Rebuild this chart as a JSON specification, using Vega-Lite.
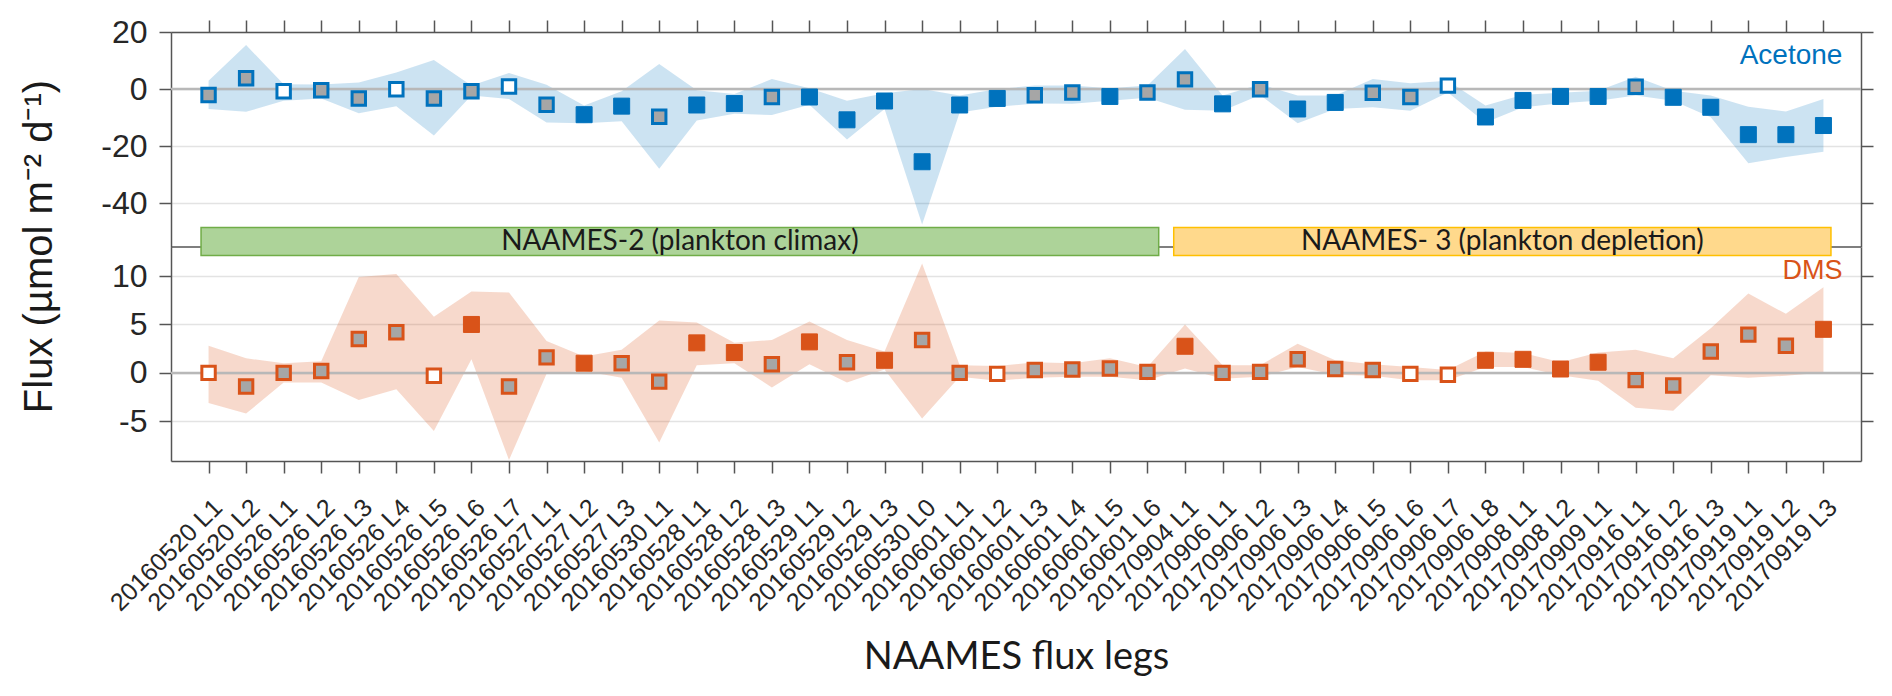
{
  "$schema": "https://vega.github.io/schema/vega-lite/v6.json",
  "background": "white",
  "padding": {"left": 18, "top": 16, "right": 5, "bottom": 5},
  "config": {
    "view": {"stroke": null},
    "axis": {
      "domainColor": "#555555", "domainWidth": 1.5,
      "tickColor": "#555555", "tickWidth": 1.5, "tickSize": 12,
      "labelFont": "Liberation Sans", "labelColor": "#262626",
      "titleFont": "Liberation Sans", "titleColor": "#1a1a1a", "titleFontWeight": "normal",
      "gridColor": "#E3E3E3", "gridWidth": 1.5
    }
  },
  "datasets": {
    "flux": [
      {"leg": "20160520 L1", "i": 0, "compound": "Acetone", "flux": -2.1, "lo": -7.0, "hi": 2.9, "type": "gray"},
      {"leg": "20160520 L2", "i": 1, "compound": "Acetone", "flux": 3.8, "lo": -8.0, "hi": 15.4, "type": "gray"},
      {"leg": "20160526 L1", "i": 2, "compound": "Acetone", "flux": -0.8, "lo": -4.1, "hi": 1.7, "type": "open"},
      {"leg": "20160526 L2", "i": 3, "compound": "Acetone", "flux": -0.4, "lo": -3.3, "hi": 1.6, "type": "gray"},
      {"leg": "20160526 L3", "i": 4, "compound": "Acetone", "flux": -3.3, "lo": -8.5, "hi": 2.3, "type": "gray"},
      {"leg": "20160526 L4", "i": 5, "compound": "Acetone", "flux": -0.1, "lo": -6.0, "hi": 5.8, "type": "open"},
      {"leg": "20160526 L5", "i": 6, "compound": "Acetone", "flux": -3.3, "lo": -16.3, "hi": 10.2, "type": "gray"},
      {"leg": "20160526 L6", "i": 7, "compound": "Acetone", "flux": -0.8, "lo": -2.3, "hi": 1.2, "type": "gray"},
      {"leg": "20160526 L7", "i": 8, "compound": "Acetone", "flux": 0.9, "lo": -3.5, "hi": 5.6, "type": "open"},
      {"leg": "20160527 L1", "i": 9, "compound": "Acetone", "flux": -5.5, "lo": -11.7, "hi": 1.5, "type": "gray"},
      {"leg": "20160527 L2", "i": 10, "compound": "Acetone", "flux": -9.0, "lo": -12.0, "hi": -5.8, "type": "sig"},
      {"leg": "20160527 L3", "i": 11, "compound": "Acetone", "flux": -6.0, "lo": -11.3, "hi": -0.8, "type": "sig"},
      {"leg": "20160530 L1", "i": 12, "compound": "Acetone", "flux": -9.7, "lo": -28.0, "hi": 8.8, "type": "gray"},
      {"leg": "20160528 L1", "i": 13, "compound": "Acetone", "flux": -5.6, "lo": -11.0, "hi": -0.4, "type": "sig"},
      {"leg": "20160528 L2", "i": 14, "compound": "Acetone", "flux": -5.1, "lo": -8.7, "hi": -1.7, "type": "sig"},
      {"leg": "20160528 L3", "i": 15, "compound": "Acetone", "flux": -2.8, "lo": -9.1, "hi": 3.5, "type": "gray"},
      {"leg": "20160529 L1", "i": 16, "compound": "Acetone", "flux": -2.8, "lo": -5.5, "hi": 0.3, "type": "sig"},
      {"leg": "20160529 L2", "i": 17, "compound": "Acetone", "flux": -10.8, "lo": -17.7, "hi": -4.1, "type": "sig"},
      {"leg": "20160529 L3", "i": 18, "compound": "Acetone", "flux": -4.2, "lo": -7.0, "hi": -1.5, "type": "sig"},
      {"leg": "20160530 L0", "i": 19, "compound": "Acetone", "flux": -25.5, "lo": -47.5, "hi": 0.0, "type": "sig"},
      {"leg": "20160601 L1", "i": 20, "compound": "Acetone", "flux": -5.6, "lo": -8.2, "hi": -2.3, "type": "sig"},
      {"leg": "20160601 L2", "i": 21, "compound": "Acetone", "flux": -3.3, "lo": -6.2, "hi": 0.0, "type": "sig"},
      {"leg": "20160601 L3", "i": 22, "compound": "Acetone", "flux": -2.2, "lo": -5.1, "hi": 1.2, "type": "gray"},
      {"leg": "20160601 L4", "i": 23, "compound": "Acetone", "flux": -1.2, "lo": -5.2, "hi": 1.2, "type": "gray"},
      {"leg": "20160601 L5", "i": 24, "compound": "Acetone", "flux": -2.6, "lo": -4.1, "hi": 0.3, "type": "sig"},
      {"leg": "20160601 L6", "i": 25, "compound": "Acetone", "flux": -1.2, "lo": -3.1, "hi": 1.2, "type": "gray"},
      {"leg": "20170904 L1", "i": 26, "compound": "Acetone", "flux": 3.4, "lo": -7.3, "hi": 14.0, "type": "gray"},
      {"leg": "20170906 L1", "i": 27, "compound": "Acetone", "flux": -5.2, "lo": -7.6, "hi": -2.3, "type": "sig"},
      {"leg": "20170906 L2", "i": 28, "compound": "Acetone", "flux": -0.1, "lo": -2.1, "hi": 1.7, "type": "gray"},
      {"leg": "20170906 L3", "i": 29, "compound": "Acetone", "flux": -7.0, "lo": -12.0, "hi": -2.3, "type": "sig"},
      {"leg": "20170906 L4", "i": 30, "compound": "Acetone", "flux": -4.7, "lo": -7.0, "hi": -2.3, "type": "sig"},
      {"leg": "20170906 L5", "i": 31, "compound": "Acetone", "flux": -1.3, "lo": -6.4, "hi": 3.5, "type": "gray"},
      {"leg": "20170906 L6", "i": 32, "compound": "Acetone", "flux": -2.8, "lo": -7.6, "hi": 2.0, "type": "gray"},
      {"leg": "20170906 L7", "i": 33, "compound": "Acetone", "flux": 1.2, "lo": -1.2, "hi": 2.9, "type": "open"},
      {"leg": "20170906 L8", "i": 34, "compound": "Acetone", "flux": -9.8, "lo": -11.7, "hi": -5.8, "type": "sig"},
      {"leg": "20170908 L1", "i": 35, "compound": "Acetone", "flux": -4.0, "lo": -6.4, "hi": -2.0, "type": "sig"},
      {"leg": "20170908 L2", "i": 36, "compound": "Acetone", "flux": -2.6, "lo": -5.0, "hi": -1.3, "type": "sig"},
      {"leg": "20170909 L1", "i": 37, "compound": "Acetone", "flux": -2.6, "lo": -4.1, "hi": -0.6, "type": "sig"},
      {"leg": "20170916 L1", "i": 38, "compound": "Acetone", "flux": 0.8, "lo": -2.3, "hi": 4.3, "type": "gray"},
      {"leg": "20170916 L2", "i": 39, "compound": "Acetone", "flux": -2.9, "lo": -4.1, "hi": -0.6, "type": "sig"},
      {"leg": "20170916 L3", "i": 40, "compound": "Acetone", "flux": -6.4, "lo": -9.9, "hi": -2.3, "type": "sig"},
      {"leg": "20170919 L1", "i": 41, "compound": "Acetone", "flux": -16.0, "lo": -26.0, "hi": -6.2, "type": "sig"},
      {"leg": "20170919 L2", "i": 42, "compound": "Acetone", "flux": -16.0, "lo": -23.8, "hi": -7.9, "type": "sig"},
      {"leg": "20170919 L3", "i": 43, "compound": "Acetone", "flux": -12.8, "lo": -22.0, "hi": -3.5, "type": "sig"},
      {"leg": "20160520 L1", "i": 0, "compound": "DMS", "flux": 0.0, "lo": -3.1, "hi": 2.8, "type": "open"},
      {"leg": "20160520 L2", "i": 1, "compound": "DMS", "flux": -1.4, "lo": -4.2, "hi": 1.5, "type": "gray"},
      {"leg": "20160526 L1", "i": 2, "compound": "DMS", "flux": 0.0, "lo": -1.0, "hi": 1.0, "type": "gray"},
      {"leg": "20160526 L2", "i": 3, "compound": "DMS", "flux": 0.2, "lo": -1.0, "hi": 1.2, "type": "gray"},
      {"leg": "20160526 L3", "i": 4, "compound": "DMS", "flux": 3.5, "lo": -2.8, "hi": 9.9, "type": "gray"},
      {"leg": "20160526 L4", "i": 5, "compound": "DMS", "flux": 4.2, "lo": -1.7, "hi": 10.2, "type": "gray"},
      {"leg": "20160526 L5", "i": 6, "compound": "DMS", "flux": -0.3, "lo": -6.0, "hi": 5.8, "type": "open"},
      {"leg": "20160526 L6", "i": 7, "compound": "DMS", "flux": 5.0, "lo": 1.4, "hi": 8.4, "type": "sig"},
      {"leg": "20160526 L7", "i": 8, "compound": "DMS", "flux": -1.4, "lo": -9.0, "hi": 8.3, "type": "gray"},
      {"leg": "20160527 L1", "i": 9, "compound": "DMS", "flux": 1.6, "lo": -0.1, "hi": 3.3, "type": "gray"},
      {"leg": "20160527 L2", "i": 10, "compound": "DMS", "flux": 1.0, "lo": 0.2, "hi": 1.7, "type": "sig"},
      {"leg": "20160527 L3", "i": 11, "compound": "DMS", "flux": 1.0, "lo": -0.5, "hi": 2.4, "type": "gray"},
      {"leg": "20160530 L1", "i": 12, "compound": "DMS", "flux": -0.9, "lo": -7.2, "hi": 5.4, "type": "gray"},
      {"leg": "20160528 L1", "i": 13, "compound": "DMS", "flux": 3.1, "lo": 0.8, "hi": 5.2, "type": "sig"},
      {"leg": "20160528 L2", "i": 14, "compound": "DMS", "flux": 2.1, "lo": 1.0, "hi": 3.1, "type": "sig"},
      {"leg": "20160528 L3", "i": 15, "compound": "DMS", "flux": 0.9, "lo": -1.5, "hi": 3.4, "type": "gray"},
      {"leg": "20160529 L1", "i": 16, "compound": "DMS", "flux": 3.2, "lo": 0.9, "hi": 5.3, "type": "sig"},
      {"leg": "20160529 L2", "i": 17, "compound": "DMS", "flux": 1.1, "lo": -1.0, "hi": 3.4, "type": "gray"},
      {"leg": "20160529 L3", "i": 18, "compound": "DMS", "flux": 1.3, "lo": 0.35, "hi": 2.2, "type": "sig"},
      {"leg": "20160530 L0", "i": 19, "compound": "DMS", "flux": 3.4, "lo": -4.7, "hi": 11.3, "type": "gray"},
      {"leg": "20160601 L1", "i": 20, "compound": "DMS", "flux": 0.0, "lo": -0.4, "hi": 0.8, "type": "gray"},
      {"leg": "20160601 L2", "i": 21, "compound": "DMS", "flux": -0.1, "lo": -0.8, "hi": 0.7, "type": "open"},
      {"leg": "20160601 L3", "i": 22, "compound": "DMS", "flux": 0.3, "lo": -0.5, "hi": 1.1, "type": "gray"},
      {"leg": "20160601 L4", "i": 23, "compound": "DMS", "flux": 0.35, "lo": -0.4, "hi": 1.0, "type": "gray"},
      {"leg": "20160601 L5", "i": 24, "compound": "DMS", "flux": 0.45, "lo": -0.4, "hi": 1.5, "type": "gray"},
      {"leg": "20160601 L6", "i": 25, "compound": "DMS", "flux": 0.1, "lo": -0.75, "hi": 0.6, "type": "gray"},
      {"leg": "20170904 L1", "i": 26, "compound": "DMS", "flux": 2.75, "lo": 0.45, "hi": 5.0, "type": "sig"},
      {"leg": "20170906 L1", "i": 27, "compound": "DMS", "flux": 0.0, "lo": -0.6, "hi": 0.8, "type": "gray"},
      {"leg": "20170906 L2", "i": 28, "compound": "DMS", "flux": 0.1, "lo": -0.4, "hi": 0.8, "type": "gray"},
      {"leg": "20170906 L3", "i": 29, "compound": "DMS", "flux": 1.4, "lo": 0.6, "hi": 3.0, "type": "gray"},
      {"leg": "20170906 L4", "i": 30, "compound": "DMS", "flux": 0.4, "lo": -0.2, "hi": 1.3, "type": "gray"},
      {"leg": "20170906 L5", "i": 31, "compound": "DMS", "flux": 0.3, "lo": -0.3, "hi": 0.9, "type": "gray"},
      {"leg": "20170906 L6", "i": 32, "compound": "DMS", "flux": -0.1, "lo": -0.75, "hi": 0.6, "type": "open"},
      {"leg": "20170906 L7", "i": 33, "compound": "DMS", "flux": -0.2, "lo": -0.75, "hi": 0.3, "type": "open"},
      {"leg": "20170906 L8", "i": 34, "compound": "DMS", "flux": 1.3, "lo": 0.6, "hi": 2.2, "type": "sig"},
      {"leg": "20170908 L1", "i": 35, "compound": "DMS", "flux": 1.4, "lo": 0.6, "hi": 2.05, "type": "sig"},
      {"leg": "20170908 L2", "i": 36, "compound": "DMS", "flux": 0.4, "lo": -0.25, "hi": 1.1, "type": "sig"},
      {"leg": "20170909 L1", "i": 37, "compound": "DMS", "flux": 1.1, "lo": -0.8, "hi": 2.1, "type": "sig"},
      {"leg": "20170916 L1", "i": 38, "compound": "DMS", "flux": -0.75, "lo": -3.6, "hi": 2.4, "type": "gray"},
      {"leg": "20170916 L2", "i": 39, "compound": "DMS", "flux": -1.3, "lo": -3.9, "hi": 1.5, "type": "gray"},
      {"leg": "20170916 L3", "i": 40, "compound": "DMS", "flux": 2.2, "lo": -0.25, "hi": 4.6, "type": "gray"},
      {"leg": "20170919 L1", "i": 41, "compound": "DMS", "flux": 3.95, "lo": -0.5, "hi": 8.2, "type": "gray"},
      {"leg": "20170919 L2", "i": 42, "compound": "DMS", "flux": 2.8, "lo": -0.3, "hi": 6.1, "type": "gray"},
      {"leg": "20170919 L3", "i": 43, "compound": "DMS", "flux": 4.5, "lo": 0.05, "hi": 8.85, "type": "sig"}
    ],
    "phases": [
      {"cruise": "NAAMES-2", "phase": "NAAMES-2 (plankton climax)", "start": -0.2, "end": 25.3, "mid": 12.55},
      {"cruise": "NAAMES-3", "phase": "NAAMES- 3 (plankton depletion)", "start": 25.7, "end": 43.2, "mid": 34.45}
    ]
  },
  "bounds": "flush",
  "spacing": 0,
  "vconcat": [
    {
      "width": 1690,
      "height": 215,
      "resolve": {"scale": {"x": "independent"}, "axis": {"x": "independent", "y": "independent"}},
      "layer": [
        {
          "data": {"name": "flux"},
          "transform": [{"filter": "datum.compound == 'Acetone'"}],
          "resolve": {"axis": {"x": "independent", "y": "independent"}},
          "layer": [
            {
              "mark": {"type": "area", "color": "#0072BD", "opacity": 0.2},
              "encoding": {
                "x": {
                  "field": "leg", "type": "nominal", "sort": {"field": "i"},
                  "scale": {"type": "point", "padding": 1},
                  "axis": {"orient": "top", "labels": false, "title": null, "grid": false}
                },
                "y": {
                  "field": "lo", "type": "quantitative",
                  "scale": {"domain": [-55.4, 20], "nice": false, "zero": false},
                  "axis": {
                    "orient": "left", "values": [-40, -20, 0, 20], "grid": true,
                    "labelFontSize": 32, "labelPadding": 12, "labelExpr": "'' + datum.value",
                    "title": "Flux (µmol m⁻² d⁻¹)", "titleFontSize": 40,
                    "titleX": -120, "titleY": 214, "titleAngle": -90,
                    "titleBaseline": "alphabetic", "titleAlign": "center"
                  }
                },
                "y2": {"field": "hi"}
              }
            },
            {
              "data": {"values": [{}]},
              "mark": {"type": "rule", "color": "#B8B8B8", "strokeWidth": 2.5},
              "encoding": {"y": {"datum": 0, "axis": null}}
            },
            {
              "mark": {"type": "point", "shape": "square", "filled": true, "opacity": 1},
              "encoding": {
                "x": {"field": "leg", "type": "nominal", "sort": {"field": "i"}, "axis": null},
                "y": {
                  "field": "flux", "type": "quantitative",
                  "scale": {"domain": [-55.4, 20], "nice": false, "zero": false},
                  "axis": {"orient": "right", "values": [-40, -20, 0, 20], "labels": false, "grid": false, "title": null}
                },
                "fill": {
                  "condition": [
                    {"test": "datum.type == 'sig'", "value": "#0072BD"},
                    {"test": "datum.type == 'open'", "value": "#FFFFFF"}
                  ],
                  "value": "#A6A6A6"
                },
                "stroke": {"value": "#0072BD"},
                "strokeWidth": {"condition": {"test": "datum.type == 'sig'", "value": 1}, "value": 3},
                "size": {"condition": {"test": "datum.type == 'sig'", "value": 256}, "value": 180}
              }
            },
            {
              "transform": [{"filter": "datum.i == 43"}],
              "mark": {"type": "text", "text": "Acetone", "align": "right", "baseline": "alphabetic", "dx": 19, "font": "Liberation Sans", "fontSize": 28, "color": "#0072BD"},
              "encoding": {
                "x": {"field": "leg", "type": "nominal", "sort": {"field": "i"}, "axis": null},
                "y": {"datum": 8.9, "axis": null}
              }
            }
          ]
        },
        {
          "data": {"name": "phases"},
          "layer": [
            {
              "data": {"values": [{}]},
              "mark": {"type": "rule", "color": "#555555", "strokeWidth": 1.5},
              "encoding": {"y": {"datum": -55.4, "axis": null}}
            },
            {
              "transform": [{"filter": "datum.cruise == 'NAAMES-2'"}],
              "mark": {"type": "rect", "fill": "#ADD399", "stroke": "#70AD47", "strokeWidth": 1.5},
              "encoding": {
                "x": {"field": "start", "type": "quantitative", "scale": {"domain": [-1, 44], "nice": false, "zero": false}, "axis": null},
                "x2": {"field": "end"},
                "y": {"datum": -48.6, "axis": null},
                "y2": {"datum": -58.4}
              }
            },
            {
              "transform": [{"filter": "datum.cruise == 'NAAMES-3'"}],
              "mark": {"type": "rect", "fill": "#FFD98C", "stroke": "#FFC000", "strokeWidth": 1.5},
              "encoding": {
                "x": {"field": "start", "type": "quantitative", "scale": {"domain": [-1, 44], "nice": false, "zero": false}, "axis": null},
                "x2": {"field": "end"},
                "y": {"datum": -48.6, "axis": null},
                "y2": {"datum": -58.4}
              }
            },
            {
              "mark": {"type": "text", "font": "Lato", "fontSize": 28, "color": "#1a1a1a", "baseline": "middle", "align": "center"},
              "encoding": {
                "x": {"field": "mid", "type": "quantitative", "scale": {"domain": [-1, 44], "nice": false, "zero": false}, "axis": null},
                "y": {"datum": -53.5, "axis": null},
                "text": {"field": "phase"}
              }
            }
          ]
        }
      ]
    },
    {
      "width": 1690,
      "height": 214,
      "data": {"name": "flux"},
      "transform": [{"filter": "datum.compound == 'DMS'"}],
      "resolve": {"axis": {"x": "independent", "y": "independent"}},
      "layer": [
        {
          "mark": {"type": "area", "color": "#D95319", "opacity": 0.22},
          "encoding": {
            "x": {
              "field": "leg", "type": "nominal", "sort": {"field": "i"},
              "scale": {"type": "point", "padding": 1},
              "axis": {
                "orient": "bottom", "grid": false, "labelAngle": -45, "labelAlign": "right", "labelBaseline": "middle",
                "labelFontSize": 25, "labelPadding": 30, "labelOffset": 9,
                "labelOverlap": false, "labelLimit": 0, "labelBound": false,
                "title": "NAAMES flux legs", "titleFont": "Lato", "titleFontSize": 38,
                "titleY": 207, "titleBaseline": "alphabetic"
              }
            },
            "y": {
              "field": "lo", "type": "quantitative",
              "scale": {"domain": [-9.1, 13], "nice": false, "zero": false},
              "axis": {"orient": "left", "values": [-5, 0, 5, 10], "grid": true, "labelFontSize": 32, "labelPadding": 12, "labelExpr": "'' + datum.value", "title": null}
            },
            "y2": {"field": "hi"}
          }
        },
        {
          "data": {"values": [{}]},
          "mark": {"type": "rule", "color": "#B8B8B8", "strokeWidth": 2.5},
          "encoding": {"y": {"datum": 0, "axis": null}}
        },
        {
          "mark": {"type": "point", "shape": "square", "filled": true, "opacity": 1},
          "encoding": {
            "x": {"field": "leg", "type": "nominal", "sort": {"field": "i"}, "axis": null},
            "y": {
              "field": "flux", "type": "quantitative",
              "scale": {"domain": [-9.1, 13], "nice": false, "zero": false},
              "axis": {"orient": "right", "values": [-5, 0, 5, 10], "labels": false, "grid": false, "title": null}
            },
            "fill": {
              "condition": [
                {"test": "datum.type == 'sig'", "value": "#D95319"},
                {"test": "datum.type == 'open'", "value": "#FFFFFF"}
              ],
              "value": "#A6A6A6"
            },
            "stroke": {"value": "#D95319"},
            "strokeWidth": {"condition": {"test": "datum.type == 'sig'", "value": 1}, "value": 3},
            "size": {"condition": {"test": "datum.type == 'sig'", "value": 256}, "value": 180}
          }
        },
        {
          "transform": [{"filter": "datum.i == 43"}],
          "mark": {"type": "text", "text": "DMS", "align": "right", "baseline": "alphabetic", "dx": 19, "font": "Liberation Sans", "fontSize": 27, "color": "#D95319"},
          "encoding": {
            "x": {"field": "leg", "type": "nominal", "sort": {"field": "i"}, "axis": null},
            "y": {"datum": 9.74, "axis": null}
          }
        }
      ]
    }
  ]
}
